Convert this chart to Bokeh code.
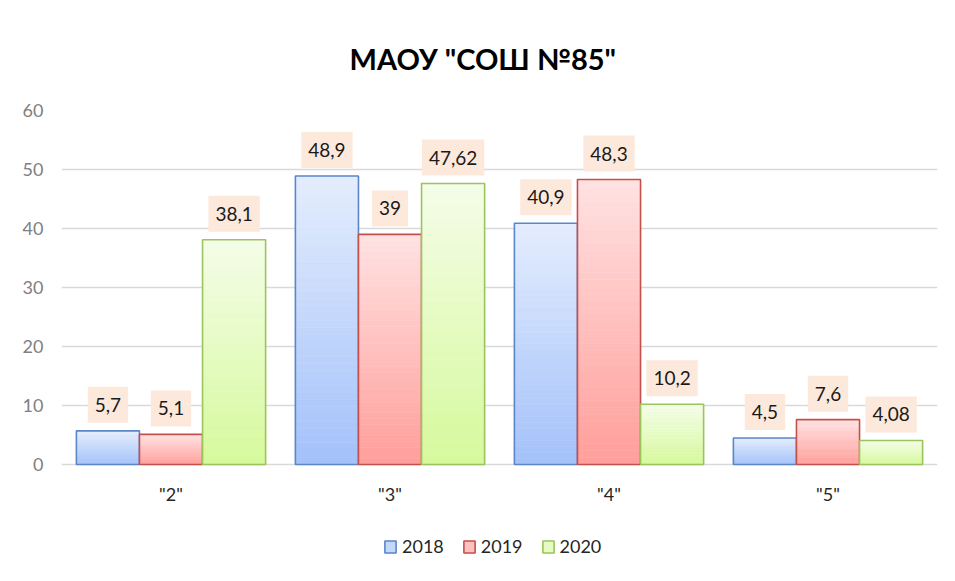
from bokeh.plotting import figure
from bokeh.models import (ColumnDataSource, FactorRange, Legend, LegendItem,
                          FixedTicker, Range1d)
from bokeh.transform import dodge
from bokeh.core.properties import value
from bokeh.embed import file_html
from bokeh.resources import INLINE

# ---- data ----
categories = ['"2"', '"3"', '"4"', '"5"']
years = ["2018", "2019", "2020"]
values_2018 = [5.7, 48.9, 40.9, 4.5]
values_2019 = [5.1, 39.0, 48.3, 7.6]
values_2020 = [38.1, 47.62, 10.2, 4.08]
y_ticks = [0, 10, 20, 30, 40, 50, 60]

series = [values_2018, values_2019, values_2020]

# ---- style / layout ----
FONT = "Lato"
top_colors = [(0xE4, 0xED, 0xFD), (0xFF, 0xE2, 0xE2), (0xF4, 0xFD, 0xE8)]
bot_colors = [(0xA3, 0xC1, 0xFA), (0xFF, 0x9E, 0x9A), (0xD6, 0xF9, 0x9C)]
edge_colors = ["#5B87C8", "#C4504E", "#9BC45C"]
offsets = [-0.288, 0.0, 0.288]
BAR_W = 0.288
NSEG = 40

W, H = 945, 578
FRAME_TOP, FRAME_BOTTOM = 110, 576      # canvas px
ZERO_PX = 464                           # canvas px of value 0
Y_MAX = 60
px_per_unit = (ZERO_PX - FRAME_TOP) / Y_MAX
Y_MIN = -(FRAME_BOTTOM - ZERO_PX) / px_per_unit


def hexc(c):
    return "#%02X%02X%02X" % tuple(int(round(v)) for v in c)


p = figure(width=W, height=H, x_range=FactorRange(*categories, range_padding=0),
           y_range=Range1d(Y_MIN, Y_MAX), output_backend="svg", toolbar_location=None,
           min_border_left=61, min_border_right=W - 937, min_border_top=FRAME_TOP,
           min_border_bottom=H - FRAME_BOTTOM)

p.outline_line_color = None
p.xgrid.grid_line_color = None
p.ygrid.grid_line_color = "#D9D9D9"
p.ygrid.grid_line_width = 1.3
p.ygrid.ticker = FixedTicker(ticks=y_ticks)
p.xaxis.visible = False

# segment order: middle segment first, so legend index 0 shows a mid-tone swatch
seg_order = [NSEG // 2] + [k for k in range(NSEG) if k != NSEG // 2]

legend_items = []
for si, vals in enumerate(series):
    xs, bots, tops, cols = [], [], [], []
    for ci, v in enumerate(vals):
        for k in seg_order:
            t = (k + 0.5) / NSEG
            c = [bot_colors[si][j] + (top_colors[si][j] - bot_colors[si][j]) * t for j in range(3)]
            xs.append(categories[ci])
            bots.append(v * k / NSEG)
            tops.append(v * (k + 1) / NSEG)
            cols.append(hexc(c))
    seg_src = ColumnDataSource(dict(x=xs, bottom=bots, top=tops, color=cols))
    seg_r = p.vbar(x=dodge("x", offsets[si], range=p.x_range), bottom="bottom", top="top",
                   width=BAR_W, fill_color="color", line_color="color", line_width=0.6,
                   source=seg_src)
    src = ColumnDataSource(dict(x=categories, top=vals,
                                label=[f"{v:g}".replace(".", ",") for v in vals]))
    out_r = p.vbar(x=dodge("x", offsets[si], range=p.x_range), top="top", width=BAR_W,
                   fill_color=None, line_color=edge_colors[si], line_width=1.6, source=src)
    p.text(x=dodge("x", offsets[si], range=p.x_range), y="top", text="label",
           source=src, text_align="center", text_baseline="middle",
           text_font=value(FONT), text_font_size="19px", text_color="#1A1A1A",
           y_offset=-26, background_fill_color="#FDE9DC", padding=(7, 11))
    legend_items.append(LegendItem(label=years[si], renderers=[seg_r, out_r], index=0))

# category labels under the zero line
cat_src = ColumnDataSource(dict(x=categories, y=[0] * len(categories), t=categories))
p.text(x="x", y="y", text="t", source=cat_src, text_align="center",
       text_baseline="middle", y_offset=29, text_font=value(FONT),
       text_font_size="18px", text_color="#262626")

p.title.text = 'МАОУ "СОШ №85"'
p.title.align = "left"
p.title.offset = 288
p.title.standoff = 69
p.title.text_line_height = 0.8
p.title.text_font = FONT
p.title.text_font_size = "29px"
p.title.text_font_style = "bold"
p.title.text_color = "#000000"

p.yaxis.ticker = FixedTicker(ticks=y_ticks)
p.yaxis.axis_line_color = None
p.yaxis.major_tick_line_color = None
p.yaxis.minor_tick_line_color = None
p.yaxis.major_label_text_font = FONT
p.yaxis.major_label_text_font_size = "18px"
p.yaxis.major_label_text_color = "#808080"
p.yaxis.major_label_standoff = 12

legend = Legend(items=legend_items, orientation="horizontal", location=(322, 19),
                label_text_font=FONT, label_text_font_size="18px",
                label_text_color="#262626", glyph_width=14, glyph_height=15,
                label_standoff=5, spacing=18, padding=0, margin=0,
                border_line_color=None, background_fill_alpha=0)
p.add_layout(legend)

open("out.html", "w").write(file_html(p, INLINE))
